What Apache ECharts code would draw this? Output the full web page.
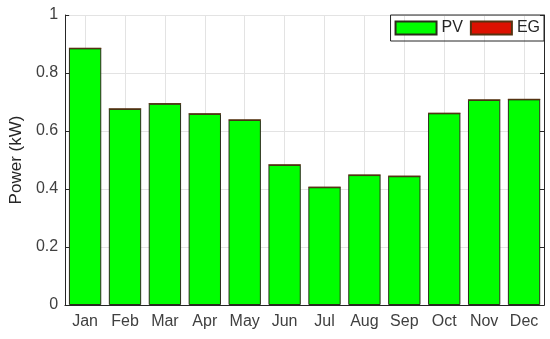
<!DOCTYPE html>
<html lang="en">
<head>
    <meta charset="UTF-8">
    <title>Power</title>
    <script src="https://cdn.jsdelivr.net/npm/echarts@6/dist/echarts.min.js"></script>
</head>
<body style="margin:0">
<div id="main" style="width:550px;height:339px;"></div>
<script>
    var months = ['Jan', 'Feb', 'Mar', 'Apr', 'May', 'Jun', 'Jul', 'Aug', 'Sep', 'Oct', 'Nov', 'Dec'];
    var pvValues = [0.885, 0.676, 0.694, 0.659, 0.638, 0.483, 0.406, 0.448, 0.444, 0.661, 0.707, 0.709];
    var egValues = [0, 0, 0, 0, 0, 0, 0, 0, 0, 0, 0, 0];
    var yTicks = [0, 0.2, 0.4, 0.6, 0.8, 1];

    // half-month slots, only used to put the vertical grid lines at the month centres
    var halfSlots = [];
    months.forEach(function (m) {
        halfSlots.push(m + '1');
        halfSlots.push(m + '2');
    });

    var font = 'Liberation Sans, Arial, sans-serif';
    var frame = '#262626';
    var chart = echarts.init(document.getElementById('main'));
    var option = {
        animation: false,
        grid: {left: 59, right: 6, top: 15, bottom: 34},
        legend: {
            right: 6,
            top: 15,
            borderColor: frame,
            borderWidth: 1,
            padding: [5, 4, 5, 4],
            itemWidth: 41,
            itemHeight: 13,
            itemGap: 7,
            icon: 'rect',
            textStyle: {fontFamily: font, fontSize: 16, color: frame},
            data: ['PV', 'EG']
        },
        xAxis: [{
            type: 'category',
            data: months,
            axisLine: {lineStyle: {color: frame}},
            axisTick: {inside: true, alignWithLabel: true, length: 4, lineStyle: {color: frame}},
            axisLabel: {fontFamily: font, fontSize: 16, color: '#404040', margin: 9},
            splitLine: {show: false}
        }, {
            type: 'category',
            position: 'top',
            data: months,
            axisLine: {lineStyle: {color: frame}},
            axisTick: {inside: true, alignWithLabel: true, length: 4, lineStyle: {color: frame}},
            axisLabel: {show: false},
            splitLine: {show: false}
        }, {
            type: 'category',
            data: halfSlots,
            show: true,
            axisLine: {show: false},
            axisTick: {show: false},
            axisLabel: {show: false},
            splitLine: {
                show: true,
                interval: function (i) { return i % 2 === 1; },
                lineStyle: {color: '#e3e3e3'}
            }
        }],
        yAxis: [{
            type: 'value',
            min: 0,
            max: 1,
            interval: 0.2,
            name: 'Power (kW)',
            nameLocation: 'middle',
            nameGap: 37,
            nameTextStyle: {fontFamily: font, fontSize: 17, color: frame},
            axisLine: {show: true, lineStyle: {color: frame}},
            axisTick: {show: true, inside: true, length: 4, lineStyle: {color: frame}},
            axisLabel: {
                fontFamily: font, fontSize: 16, color: '#404040', margin: 7,
                formatter: function (v) {
                    var t = yTicks.filter(function (x) { return Math.abs(x - v) < 1e-9; });
                    return t.length ? String(t[0]) : '';
                }
            },
            splitLine: {show: true, lineStyle: {color: '#e3e3e3'}}
        }, {
            type: 'value',
            position: 'right',
            min: 0,
            max: 1,
            interval: 0.2,
            axisLine: {show: true, lineStyle: {color: frame}},
            axisTick: {show: true, inside: true, length: 4, lineStyle: {color: frame}},
            axisLabel: {show: false},
            splitLine: {show: false}
        }],
        series: [{
            name: 'PV',
            type: 'bar',
            stack: 'p',
            data: pvValues,
            barWidth: '81%',
            itemStyle: {color: '#00ff00', borderColor: '#2b2b1a', borderWidth: 1}
        }, {
            name: 'EG',
            type: 'bar',
            stack: 'p',
            data: egValues,
            barWidth: '81%',
            itemStyle: {color: '#dd1100', borderColor: '#553311', borderWidth: 1}
        }]
    };
    chart.setOption(option);
</script>
</body>
</html>
